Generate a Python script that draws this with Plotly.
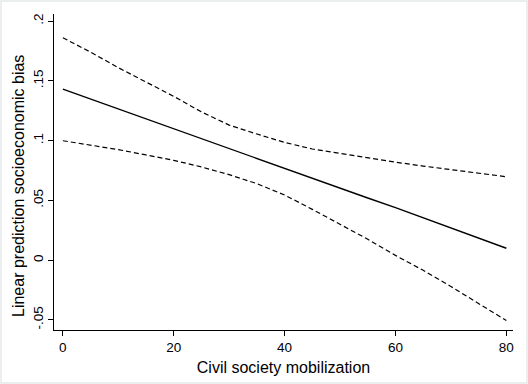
import plotly.graph_objects as go

x_vals = [0, 5, 10, 15, 20, 25, 30, 35, 40, 45, 50, 55, 60, 65, 70, 75, 80]
pred = [0.143, 0.1347, 0.1264, 0.118, 0.1098, 0.1015, 0.093, 0.0848, 0.0765,
        0.068, 0.060, 0.052, 0.044, 0.0355, 0.027, 0.0185, 0.010]
upper = [0.186, 0.174, 0.161, 0.149, 0.137, 0.124, 0.113, 0.1055, 0.0985,
         0.093, 0.0892, 0.0855, 0.082, 0.0787, 0.0757, 0.073, 0.0698]
lower = [0.0999, 0.0965, 0.0925, 0.088, 0.0835, 0.078, 0.0715, 0.064, 0.0545,
         0.0425, 0.030, 0.0175, 0.004, -0.0085, -0.022, -0.036, -0.0505]

y_ticks = [-0.05, 0, 0.05, 0.1, 0.15, 0.2]
y_tick_labels = ["-.05", "0", ".05", ".1", ".15", ".2"]
x_ticks = [0, 20, 40, 60, 80]
x_title = "Civil society mobilization"
y_title = "Linear prediction socioeconomic bias"

fig = go.Figure()
fig.add_trace(go.Scatter(x=x_vals, y=upper, mode="lines",
                         line=dict(color="black", width=1.2, dash="5px,3px"),
                         showlegend=False))
fig.add_trace(go.Scatter(x=x_vals, y=pred, mode="lines",
                         line=dict(color="black", width=1.4),
                         showlegend=False))
fig.add_trace(go.Scatter(x=x_vals, y=lower, mode="lines",
                         line=dict(color="black", width=1.2, dash="5px,3px"),
                         showlegend=False))

fig.update_layout(
    width=528, height=384,
    margin=dict(l=54, r=15, t=14, b=54, autoexpand=False),
    paper_bgcolor="white", plot_bgcolor="white",
    font=dict(family="Liberation Sans, Arial, sans-serif", color="black"),
    xaxis=dict(range=[-1.6, 81.2], tickvals=x_ticks, ticks="outside", ticklen=5,
               tickcolor="black", showline=True, linecolor="black", linewidth=1,
               showgrid=False, zeroline=False, tickfont=dict(size=13.5), automargin=False,
               title=dict(text=x_title, font=dict(size=16), standoff=7)),
    yaxis=dict(range=[-0.0584, 0.2059], tickvals=y_ticks, ticktext=y_tick_labels,
               ticks="outside", ticklen=5, tickcolor="black", tickangle=-90,
               showline=True, linecolor="black", linewidth=1, automargin=False,
               showgrid=False, zeroline=False, tickfont=dict(size=13.5)),
)
fig.add_annotation(text=y_title, xref="paper", yref="paper",
                   x=(18 - 54) / 459, y=(330 - 186) / 316, xanchor="center", yanchor="middle",
                   textangle=-90, showarrow=False, font=dict(size=16, color="black"))
fig.add_shape(type="rect", xref="paper", yref="paper",
              x0=-53/459, x1=1 + 14/459, y0=-53/316, y1=1 + 13/316,
              line=dict(color="#e6eaea", width=1.5), fillcolor="rgba(0,0,0,0)", layer="below")

fig.write_html("out.html", config={"displayModeBar": False},
               post_script="document.body.style.margin='0';document.body.style.overflow='hidden';")
